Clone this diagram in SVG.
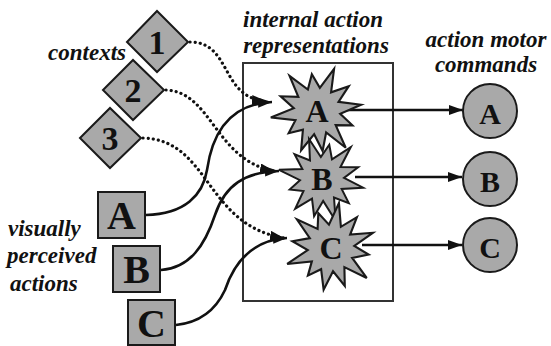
<svg xmlns="http://www.w3.org/2000/svg" xmlns:xlink="http://www.w3.org/1999/xlink" width="551" height="346" viewBox="0 0 551 346">
<style>
.shape{fill:#a9a9a9;stroke:#1a1a1a;stroke-width:2}
.lbl{font-weight:bold;font-style:italic;font-size:23px;fill:#111}
.let{font-weight:bold;fill:#111;text-anchor:middle}
.sq{font-size:40px}
.dm{font-size:34px}
.st{font-size:32px}
.ci{font-size:30px}
.solid{fill:none;stroke:#111;stroke-width:2.6}
.dot{fill:none;stroke:#111;stroke-width:3.2;stroke-dasharray:0.1 5;stroke-linecap:round}
</style>
<defs>
<marker id="ah" markerUnits="userSpaceOnUse" markerWidth="16" markerHeight="12" refX="14" refY="5" orient="auto">
<path d="M0,0 L14,5 L0,10 z" fill="#111"/>
</marker>
<polygon id="star" points="42,0 21.3,5.7 31.2,18 15.6,15.6 22,38.1 5.7,21.3 0,38 -5.7,21.3 -20,34.6 -15.6,15.6 -29.4,17 -21.3,5.7 -44,0 -21.3,-5.7 -32,-18.5 -15.6,-15.6 -21,-36.4 -5.7,-21.3 0,-35 5.7,-21.3 21.5,-37.2 15.6,-15.6 32.9,-19 21.3,-5.7"/>
</defs>
<rect width="551" height="346" fill="#fff"/>

<g font-family="Liberation Serif, 'Times New Roman', serif">
<g id="labels">
<text class="lbl" x="126" y="60" text-anchor="end">contexts</text>
<text class="lbl" x="313" y="27" text-anchor="middle">internal action</text>
<text class="lbl" x="316" y="53" text-anchor="middle">representations</text>
<text class="lbl" x="486" y="47" text-anchor="middle">action motor</text>
<text class="lbl" x="486" y="72" text-anchor="middle">commands</text>
<text class="lbl" x="8" y="236">visually</text>
<text class="lbl" x="7" y="263">perceived</text>
<text class="lbl" x="10" y="291">actions</text>
</g>

<g id="box">
<rect x="243" y="63" width="150" height="238" fill="none" stroke="#333" stroke-width="2"/>
</g>

<g id="connectors">
<path class="dot" d="M190,42 C232,42 220,98 266,101" marker-end="url(#ah)"/>
<path class="dot" d="M166,90 C212,92 215,160 274,171" marker-end="url(#ah)"/>
<path class="dot" d="M143,138 C210,140 205,225 284,238" marker-end="url(#ah)"/>
<path class="solid" d="M146,215 C185,214 203,195 207,170 C212,135 228,104 272,102" marker-end="url(#ah)"/>
<path class="solid" d="M161,270 C190,268 205,245 215,215 C225,185 245,172 279,171" marker-end="url(#ah)"/>
<path class="solid" d="M176,325 C205,322 218,305 225,290 C235,260 255,240 287,238" marker-end="url(#ah)"/>
<path class="solid" d="M345,110 L463,110" marker-end="url(#ah)"/>
<path class="solid" d="M355,177 L462,177" marker-end="url(#ah)"/>
<path class="solid" d="M362,245 L462,245" marker-end="url(#ah)"/>
</g>

<g id="ctx1"><polygon class="shape" points="127,42 157,11 188,42 157,72"/><text class="let dm" x="157" y="54">1</text></g>
<g id="ctx2"><polygon class="shape" points="103,90 133,60 164,90 133,120"/><text class="let dm" x="133" y="102">2</text></g>
<g id="ctx3"><polygon class="shape" points="80,138 110,108 141,138 110,168"/><text class="let dm" x="110" y="150">3</text></g>

<g id="visA"><rect class="shape" x="98" y="192" width="47" height="46"/><text class="let sq" x="121.5" y="229">A</text></g>
<g id="visB"><rect class="shape" x="113" y="246" width="47" height="46"/><text class="let sq" x="136.5" y="283">B</text></g>
<g id="visC"><rect class="shape" x="128" y="300" width="47" height="45"/><text class="let sq" x="151.5" y="337">C</text></g>

<g id="repA"><use xlink:href="#star" class="shape" transform="translate(317,111) rotate(-8) scale(1.06)"/><text class="let st" x="317" y="122">A</text></g>
<g id="repB"><use xlink:href="#star" class="shape" transform="translate(322,179) rotate(12) scale(1.0)"/><text class="let st" x="322" y="190">B</text></g>
<g id="repC"><use xlink:href="#star" class="shape" transform="translate(331,248) rotate(-20) scale(1.06)"/><text class="let st" x="331" y="259">C</text></g>

<g id="cmdA"><circle class="shape" cx="490" cy="111" r="27"/><text class="let ci" x="490" y="124">A</text></g>
<g id="cmdB"><circle class="shape" cx="490" cy="179" r="27"/><text class="let ci" x="490" y="192">B</text></g>
<g id="cmdC"><circle class="shape" cx="490" cy="245" r="27"/><text class="let ci" x="490" y="258">C</text></g>
</g>
</svg>
